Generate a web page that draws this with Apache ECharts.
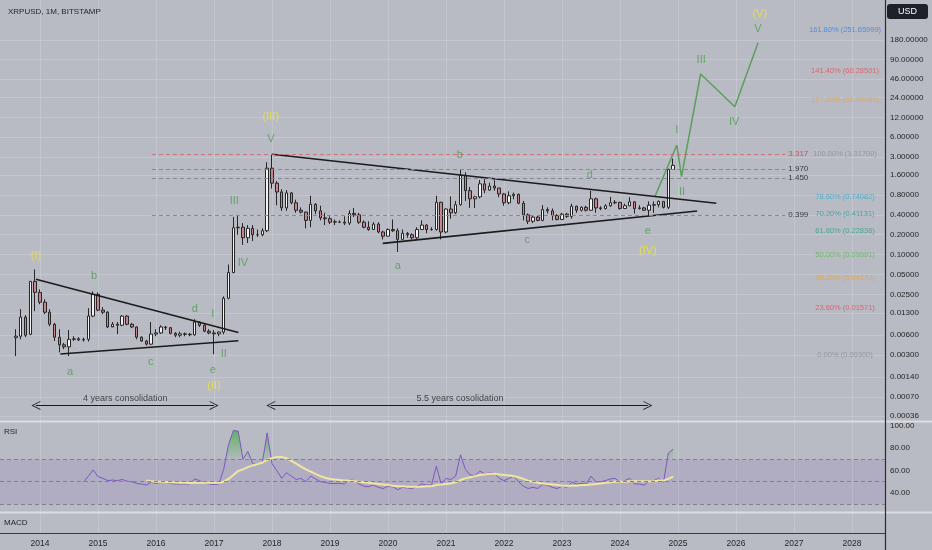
<!DOCTYPE html>
<html>
<head>
<meta charset="utf-8">
<script src="https://cdn.jsdelivr.net/npm/echarts@6/dist/echarts.min.js"></script>
<style>
html,body{margin:0;padding:0;background:#b8bbc3;}
#chart{width:932px;height:550px;}
</style>
</head>
<body>
<div id="chart"></div>
<script>
// XRPUSD monthly candles, first bar Aug 2013
var candleFirst = '2013-08';
var opens = [
  0.0055, 0.0058, 0.0113, 0.0062, 0.0392,
  0.0268, 0.019, 0.0134, 0.0088, 0.0056, 0.0043, 0.0040, 0.0052, 0.0053, 0.0051, 0.0052, 0.0117,
  0.025, 0.0144, 0.0134, 0.008, 0.0088, 0.0085, 0.0117, 0.0088, 0.008, 0.0056, 0.0049, 0.0044,
  0.00625, 0.0065, 0.008, 0.0078, 0.0064, 0.0060, 0.0063, 0.0062, 0.0061, 0.0095, 0.0085, 0.0069,
  0.0065, 0.0063, 0.0067, 0.0218, 0.0536, 0.255, 0.26, 0.18, 0.25, 0.20, 0.20, 0.23,
  2.04, 1.21, 0.89, 0.51, 0.86, 0.61, 0.47, 0.44, 0.33, 0.58, 0.46, 0.36,
  0.35, 0.31, 0.31, 0.31, 0.30, 0.42, 0.40, 0.31, 0.26, 0.24, 0.29, 0.22,
  0.19, 0.24, 0.23, 0.17, 0.21, 0.20, 0.18, 0.24, 0.28, 0.24, 0.24, 0.62,
  0.22, 0.49, 0.43, 0.57, 1.59, 0.93, 0.70, 0.75, 1.18, 0.95, 1.09, 1.02,
  0.83, 0.61, 0.78, 0.82, 0.60, 0.40, 0.32, 0.37, 0.33, 0.48, 0.46, 0.39,
  0.34, 0.41, 0.38, 0.54, 0.47, 0.52, 0.47, 0.70, 0.51, 0.50, 0.55, 0.61,
  0.62, 0.50, 0.55, 0.63, 0.50, 0.51, 0.47, 0.56, 0.57, 0.64, 0.52, 1.95
];
var closes = [
  0.0058, 0.0113, 0.0060, 0.0392, 0.0268,
  0.019, 0.0134, 0.0088, 0.0056, 0.0043, 0.0040, 0.0052, 0.0053, 0.0051, 0.0052, 0.0117, 0.025,
  0.0144, 0.0134, 0.008, 0.0088, 0.0085, 0.0117, 0.0088, 0.008, 0.0056, 0.0049, 0.0044, 0.00625,
  0.0065, 0.008, 0.0078, 0.0064, 0.0060, 0.0063, 0.0062, 0.0061, 0.0095, 0.0085, 0.0069, 0.0065,
  0.0063, 0.0067, 0.0218, 0.0536, 0.255, 0.26, 0.18, 0.25, 0.20, 0.20, 0.23, 2.04,
  1.21, 0.89, 0.51, 0.86, 0.61, 0.47, 0.44, 0.33, 0.58, 0.46, 0.36, 0.35,
  0.31, 0.315, 0.31, 0.30, 0.42, 0.40, 0.31, 0.26, 0.24, 0.29, 0.22, 0.19,
  0.24, 0.23, 0.17, 0.21, 0.20, 0.18, 0.24, 0.28, 0.24, 0.24, 0.62, 0.22,
  0.49, 0.43, 0.57, 1.59, 0.93, 0.70, 0.75, 1.18, 0.95, 1.09, 1.02, 0.83,
  0.61, 0.78, 0.82, 0.60, 0.40, 0.32, 0.37, 0.33, 0.48, 0.46, 0.39, 0.34,
  0.41, 0.38, 0.54, 0.47, 0.52, 0.47, 0.70, 0.51, 0.50, 0.55, 0.61, 0.62,
  0.50, 0.55, 0.63, 0.50, 0.51, 0.47, 0.56, 0.57, 0.64, 0.52, 1.95, 2.25
];
var lows = [
  0.0029, 0.0052, 0.0056, 0.0060, 0.0139,
  0.0177, 0.0125, 0.0082, 0.0049, 0.0033, 0.0037, 0.0029, 0.0049, 0.0049, 0.0048, 0.0048, 0.0113,
  0.0139, 0.0125, 0.0077, 0.0082, 0.00625, 0.0082, 0.0085, 0.0077, 0.0052, 0.0048, 0.0042, 0.0043,
  0.0058, 0.0063, 0.0072, 0.0062, 0.0056, 0.0056, 0.0058, 0.0058, 0.0059, 0.0080, 0.0067, 0.0062,
  0.0031, 0.0058, 0.0062, 0.0210, 0.052, 0.20, 0.14, 0.15, 0.16, 0.185, 0.19, 0.22,
  1.0, 0.56, 0.46, 0.46, 0.58, 0.43, 0.42, 0.25, 0.26, 0.41, 0.33, 0.28,
  0.29, 0.28, 0.30, 0.28, 0.28, 0.37, 0.29, 0.25, 0.23, 0.24, 0.21, 0.17,
  0.19, 0.22, 0.11, 0.17, 0.18, 0.17, 0.17, 0.24, 0.21, 0.23, 0.23, 0.17,
  0.21, 0.35, 0.41, 0.55, 0.65, 0.51, 0.51, 0.71, 0.85, 0.93, 0.93, 0.74,
  0.55, 0.58, 0.69, 0.58, 0.33, 0.29, 0.30, 0.32, 0.32, 0.42, 0.33, 0.33,
  0.34, 0.36, 0.35, 0.43, 0.45, 0.45, 0.46, 0.43, 0.47, 0.48, 0.53, 0.58,
  0.48, 0.49, 0.54, 0.42, 0.48, 0.46, 0.38, 0.43, 0.52, 0.50, 0.49, 1.93
];
var highs = [
  0.0074, 0.0149, 0.0121, 0.040, 0.0595,
  0.0297, 0.021, 0.0149, 0.0092, 0.0074, 0.0046, 0.0072, 0.0058, 0.0056, 0.0055, 0.0154, 0.0277,
  0.0268, 0.016, 0.0139, 0.0095, 0.0095, 0.0121, 0.0121, 0.0092, 0.0082, 0.0058, 0.0051, 0.0095,
  0.0074, 0.0085, 0.0083, 0.008, 0.0067, 0.0068, 0.0066, 0.0065, 0.0105, 0.0098, 0.0088, 0.0074,
  0.0072, 0.0069, 0.0233, 0.0707, 0.373, 0.40, 0.30, 0.28, 0.28, 0.24, 0.25, 2.51,
  3.31, 1.30, 0.98, 0.95, 0.89, 0.68, 0.52, 0.45, 0.78, 0.60, 0.55, 0.43,
  0.38, 0.34, 0.33, 0.38, 0.47, 0.51, 0.43, 0.33, 0.32, 0.31, 0.31, 0.23,
  0.25, 0.34, 0.25, 0.24, 0.22, 0.21, 0.26, 0.33, 0.29, 0.26, 0.78, 0.63,
  0.50, 0.76, 0.65, 1.96, 1.77, 1.06, 0.78, 1.35, 1.41, 1.23, 1.34, 1.03,
  0.86, 0.91, 0.87, 0.84, 0.65, 0.42, 0.39, 0.39, 0.56, 0.52, 0.50, 0.41,
  0.43, 0.43, 0.59, 0.55, 0.54, 0.55, 0.93, 0.73, 0.54, 0.58, 0.75, 0.67,
  0.63, 0.59, 0.74, 0.64, 0.56, 0.53, 0.64, 0.64, 0.66, 0.64, 2.00, 2.85
];

var rsiFirst = '2014-10';
var rsiValues = [
  49.5, 55, 60.5,
  54.5, 53, 51, 51.5, 51, 52, 50.5, 50, 48.5, 48, 47, 49.5,
  48.5, 49.5, 49.5, 48.5, 48, 48, 48, 48, 52.5, 51, 49, 48,
  47.5, 48, 61, 83, 95.5, 95, 70, 77, 66, 65, 67, 93.5,
  66, 60, 53, 58, 55, 52, 53, 50, 55, 52.5, 50, 49.5,
  48.5, 48.5, 48.5, 48, 52, 51, 48, 46, 45.5, 47, 45, 44,
  46, 45.5, 43, 45, 44.5, 44, 46, 48, 47, 47, 64, 48,
  53, 52, 55, 74, 61, 56, 55.5, 59.5, 57, 58, 57.5, 53,
  51, 53, 55, 50, 46, 44, 45, 44, 47.5, 47, 45, 44,
  46, 45, 49.5, 48, 48.5, 48, 55, 50, 50, 51, 52.5, 53,
  49.5, 51, 53, 48, 48, 47, 50.5, 51, 53, 49.5, 75.5, 79
];
var rsiMaFirst = '2015-11';
var rsiMaValues = [
  51, 50.5,
  50, 50, 49.8, 49.5, 49.3, 49, 49, 48.8, 49, 49.2, 49.2, 49.2,
  49, 49, 50, 52.5, 56, 59.5, 61, 63, 64.5, 65.5, 67, 69.5,
  71, 72, 72, 71, 68.5, 66, 63.5, 61, 59, 57, 55, 53.5,
  52.5, 52, 51.5, 51, 51, 50.5, 50, 49.5, 49, 48.5, 48, 47.5,
  47, 46.5, 46, 46, 45.5, 45.5, 45.5, 45.5, 46, 46, 47, 47.5,
  48, 48.5, 49.5, 51.5, 53, 54, 55, 56, 56.5, 57, 57, 56.5,
  56, 55.5, 55, 54, 52.5, 51, 50, 49, 48.5, 48, 47.5, 47,
  46.5, 46.5, 46.5, 46.5, 47, 47, 47.5, 48, 48.5, 49, 49.5, 50,
  50, 50, 50.5, 50.5, 50.5, 50.5, 50.5, 50.5, 51, 51, 52.5, 54.5
];
var rsiBands = [70, 50, 30];

// axis ticks
var yearTicks = [2014, 2015, 2016, 2017, 2018, 2019, 2020, 2021, 2022, 2023, 2024, 2025, 2026, 2027, 2028];
var priceTicks = [180, 90, 46, 24, 12, 6, 3, 1.6, 0.8, 0.4, 0.2, 0.1, 0.05, 0.025, 0.013, 0.006, 0.003, 0.0014, 0.0007, 0.00036];
var rsiTicks = [40, 60, 80, 100];

// fibonacci levels (extension drawn from 0.003 to 3.317)
var fibPct = ['161.80%', '141.40%', '127.20%', '100.00%', '78.60%', '70.20%', '61.80%', '50.00%', '38.20%', '23.60%', '0.00%'];
var fibPrice = [251.65999, 60.28501, 22.29061, 3.317, 0.74082, 0.41131, 0.22836, 0.09991, 0.04372, 0.01571, 0.003];
var fibColors = ['#3f7fe0', '#e0525e', '#f0a032', '#8d9098', '#2fb0d2', '#2c9f9c', '#34a07e', '#63b65c', '#f0a032', '#e0525e', '#8d9098'];

// horizontal levels
var levelPrice = [3.317, 1.970, 1.450, 0.399];
var levelText = ['3.317', '1.970', '1.450', '0.399'];
var levelColor = ['#d2505a', '#3a3a3a', '#3a3a3a', '#3a3a3a'];

// wave counts [label, year, price]
var yellowWaves = [['(I)', 2013.93, 0.095], ['(II)', 2017.0, 0.00102], ['(III)', 2017.98, 12.2], ['(IV)', 2024.48, 0.113], ['(V)', 2026.41, 442]];
var greenWaves = [
  ['a', 2014.52, 0.00166], ['b', 2014.93, 0.0474], ['c', 2015.91, 0.00236], ['d', 2016.67, 0.015],
  ['e', 2016.98, 0.00178], ['I', 2016.98, 0.0126], ['II', 2017.17, 0.00312], ['III', 2017.35, 0.649],
  ['IV', 2017.5, 0.0746], ['V', 2017.98, 5.65],
  ['a', 2020.17, 0.0672], ['b', 2021.24, 3.23], ['c', 2022.4, 0.166], ['d', 2023.48, 1.61], ['e', 2024.48, 0.228],
  ['I', 2024.98, 7.72], ['II', 2025.07, 0.888], ['III', 2025.4, 88.9], ['IV', 2025.97, 10.2], ['V', 2026.38, 262]
];
var projection = [[2024.60, 0.754], [2024.98, 4.58], [2025.06, 1.515], [2025.39, 54.5], [2025.98, 17.4], [2026.38, 162]];

// trend lines [[year, price], [year, price]]
var trendLines = [
  [[2013.93, 0.0423], [2017.42, 0.0066]],
  [[2014.35, 0.00312], [2017.42, 0.00496]],
  [[2018.0, 3.317], [2025.66, 0.599]],
  [[2019.91, 0.148], [2025.33, 0.458]]
];
var spans = [[2013.93, 2017.0], [2017.98, 2024.48]];
var spanText = [['4 years consolidation', 2015.47], ['5.5 years cosolidation', 2021.24]];

var L = function (v) { return Math.log10(v); };
var monthPos = function (first, i) {
  var p = first.split('-');
  return +p[0] + (+p[1] - 1 + i) / 12;
};

var xMin = 2013.3103, xMax = 2028.569;
var priceMin = 0.000301, priceMax = 720.7;
var font = 'Liberation Sans';

var candles = opens.map(function (o, i) {
  return [monthPos(candleFirst, i), L(o), L(closes[i]), L(lows[i]), L(highs[i])];
});
var rsiPts = rsiValues.map(function (v, i) { return [monthPos(rsiFirst, i), v]; });
var maPts = rsiMaValues.map(function (v, i) { return [monthPos(rsiMaFirst, i), v]; });

function textPoints(list, color, size) {
  return list.map(function (w) {
    return { name: w[0], value: [w[1], L(w[2])], label: { color: color, fontSize: size } };
  });
}

var fibLabels = fibPct.map(function (p, i) {
  return {
    name: p + ' (' + fibPrice[i].toFixed(5) + ')',
    value: [2027.88, L(fibPrice[i])],
    label: { color: fibColors[i], fontSize: 7.5 }
  };
});

var levelLines = levelPrice.map(function (p, i) {
  return [
    { coord: [2015.93, L(p)], lineStyle: { color: i === 0 ? 'rgba(205,95,100,0.75)' : '#868992' },
      label: { formatter: levelText[i], color: levelColor[i] } },
    { coord: [2026.85, L(p)] }
  ];
});

var chevron = 'path://M0,10 L5,0 L10,10 L9,10 L5,2 L1,10 Z';
var arrowY = L(0.000518);

// overbought fill: area between the RSI line and the 70 band where RSI is above it
function renderOverbought(params, api) {
  var pts = [];
  for (var i = 0; i < rsiPts.length; i++) {
    var a = rsiPts[i];
    if (i > 0) {
      var b = rsiPts[i - 1];
      if ((b[1] - 70) * (a[1] - 70) < 0) {
        var f = (70 - b[1]) / (a[1] - b[1]);
        pts.push(api.coord([b[0] + f * (a[0] - b[0]), 70]));
      }
    }
    pts.push(api.coord([a[0], Math.max(a[1], 70)]));
  }
  pts.push(api.coord([rsiPts[rsiPts.length - 1][0], 70]));
  pts.push(api.coord([rsiPts[0][0], 70]));
  var top = api.coord([xMin, 100])[1];
  var base = api.coord([xMin, 70])[1];
  return {
    type: 'polygon',
    shape: { points: pts },
    style: {
      fill: new echarts.graphic.LinearGradient(0, top, 0, base, [
        { offset: 0, color: 'rgba(76,175,80,0.95)' },
        { offset: 1, color: 'rgba(76,175,80,0.05)' }
      ], true)
    }
  };
}

var chart = echarts.init(document.getElementById('chart'));

var xAxisBase = function (idx, showLabel) {
  return {
    type: 'value', gridIndex: idx, min: xMin, max: xMax,
    axisLine: { show: showLabel, lineStyle: { color: '#3a3a3a', width: 1 } },
    axisTick: { show: false, customValues: yearTicks },
    axisLabel: { show: showLabel, customValues: yearTicks, color: '#262626', fontSize: 8.5, fontFamily: font, margin: 6,
      formatter: function (v) { return String(Math.round(v)); } },
    splitLine: { show: true, lineStyle: { color: 'rgba(255,255,255,0.16)', width: 1 } }
  };
};

var option = {
  backgroundColor: '#b8bbc3',
  animation: false,
  title: {
    text: 'XRPUSD, 1M, BITSTAMP', left: 3, top: 3,
    textStyle: { fontSize: 8, fontWeight: 'normal', color: '#262626', fontFamily: font }
  },
  grid: [
    { left: 0, top: 0, width: 885, height: 421, outerBoundsMode: 'none' },
    { left: 0, top: 422, width: 885, height: 90, outerBoundsMode: 'none' },
    { left: 0, top: 513, width: 885, height: 20, outerBoundsMode: 'none' }
  ],
  xAxis: [xAxisBase(0, false), xAxisBase(1, false), xAxisBase(2, true)],
  yAxis: [
    {
      type: 'value', gridIndex: 0, position: 'right', min: L(priceMin), max: L(priceMax),
      axisLine: { show: false }, axisTick: { show: false, customValues: priceTicks.map(L) },
      axisLabel: { customValues: priceTicks.map(L), color: '#262626', fontSize: 8, fontFamily: font, margin: 5,
        formatter: function (v) { return Math.pow(10, v).toFixed(5); } },
      splitLine: { show: true, lineStyle: { color: 'rgba(255,255,255,0.16)', width: 1 } }
    },
    {
      type: 'value', gridIndex: 1, position: 'right', min: 23.1, max: 103.1,
      axisLine: { show: false }, axisTick: { show: false, customValues: rsiTicks },
      axisLabel: { customValues: rsiTicks, color: '#262626', fontSize: 8, fontFamily: font, margin: 5,
        formatter: function (v) { return v.toFixed(2); } },
      splitLine: { show: false }
    },
    { type: 'value', gridIndex: 2, show: false, min: 0, max: 1 }
  ],
  series: [
    {
      type: 'candlestick', xAxisIndex: 0, yAxisIndex: 0, barWidth: 3,
      encode: { x: 0, y: [1, 2, 3, 4] },
      itemStyle: { color: '#f3f3f3', color0: '#c8858f', borderColor: '#262626', borderColor0: '#262626', borderWidth: 1 },
      data: candles
    },
    {
      type: 'line', xAxisIndex: 0, yAxisIndex: 0, data: [], silent: true,
      markLine: {
        silent: true, symbol: 'none', animation: false,
        lineStyle: { color: '#1b1b1b', width: 1.6, type: 'solid' },
        label: { show: false },
        data: trendLines.map(function (t) {
          return [{ coord: [t[0][0], L(t[0][1])] }, { coord: [t[1][0], L(t[1][1])] }];
        })
      }
    },
    {
      type: 'line', xAxisIndex: 0, yAxisIndex: 0, data: [], silent: true,
      markLine: {
        silent: true, symbol: 'none', animation: false,
        lineStyle: { width: 1, type: [4, 3] },
        label: { show: true, position: 'end', distance: 3, fontSize: 8, fontFamily: font },
        data: levelLines
      }
    },
    {
      type: 'line', xAxisIndex: 0, yAxisIndex: 0, data: [], silent: true,
      markLine: {
        silent: true, animation: false, symbol: [chevron, chevron], symbolSize: 9,
        lineStyle: { color: '#1b1b1b', width: 1, type: 'solid' },
        label: { show: false },
        data: spans.map(function (s) { return [{ coord: [s[0], arrowY] }, { coord: [s[1], arrowY] }]; })
      }
    },
    {
      type: 'line', xAxisIndex: 0, yAxisIndex: 0, symbol: 'none', silent: true,
      lineStyle: { color: '#5a9f5a', width: 1.5 },
      data: projection.map(function (p) { return [p[0], L(p[1])]; })
    },
    {
      type: 'scatter', xAxisIndex: 0, yAxisIndex: 0, symbolSize: 1, silent: true,
      itemStyle: { color: 'rgba(0,0,0,0)' },
      label: { show: true, position: 'inside', formatter: '{b}', fontFamily: font },
      data: textPoints(yellowWaves, '#efe53a', 11)
        .concat(textPoints(greenWaves, '#4c9d4c', 11))
        .concat(fibLabels)
        .concat(spanText.map(function (s) {
          return { name: s[0], value: [s[1], L(0.00065)], label: { color: '#1f1f1f', fontSize: 9 } };
        }))
    },
    {
      type: 'custom', xAxisIndex: 1, yAxisIndex: 1, silent: true, z: 1,
      data: [[2020, 50]],
      renderItem: renderOverbought
    },
    {
      type: 'line', xAxisIndex: 1, yAxisIndex: 1, symbol: 'none', silent: true, z: 3,
      lineStyle: { color: '#7e57c2', width: 1 },
      data: rsiPts,
      markArea: {
        silent: true,
        itemStyle: { color: 'rgba(126,87,194,0.13)' },
        data: [[{ yAxis: rsiBands[0] }, { yAxis: rsiBands[2] }]]
      },
      markLine: {
        silent: true, symbol: 'none', animation: false,
        label: { show: false },
        lineStyle: { color: '#7f828b', width: 1, type: [4, 3] },
        data: rsiBands.map(function (b) { return { yAxis: b }; })
      }
    },
    {
      type: 'line', xAxisIndex: 1, yAxisIndex: 1, symbol: 'none', silent: true, z: 3,
      lineStyle: { color: '#f0e6a0', width: 2 },
      data: maPts
    }
  ],
  graphic: [
    { type: 'rect', silent: true, shape: { x: 0, y: 420.5, width: 932, height: 2 }, style: { fill: 'rgba(255,255,255,0.5)' } },
    { type: 'rect', silent: true, shape: { x: 0, y: 511.5, width: 932, height: 2 }, style: { fill: 'rgba(255,255,255,0.5)' } },
    { type: 'line', silent: true, shape: { x1: 885.5, y1: 0, x2: 885.5, y2: 550 }, style: { stroke: '#2b2b2b', lineWidth: 1.2 } },
    { type: 'rect', silent: true, shape: { x: 887, y: 4, width: 41, height: 15, r: 3 }, style: { fill: '#1f2128' } },
    { type: 'text', silent: true, x: 907.5, y: 11.5, style: { text: 'USD', fill: '#ffffff', font: '9px ' + font, align: 'center', verticalAlign: 'middle' } },
    { type: 'text', silent: true, x: 4, y: 432, style: { text: 'RSI', fill: '#262626', font: '8px ' + font, verticalAlign: 'middle' } },
    { type: 'text', silent: true, x: 4, y: 523, style: { text: 'MACD', fill: '#262626', font: '8px ' + font, verticalAlign: 'middle' } }
  ]
};

chart.setOption(option);
</script>
</body>
</html>
